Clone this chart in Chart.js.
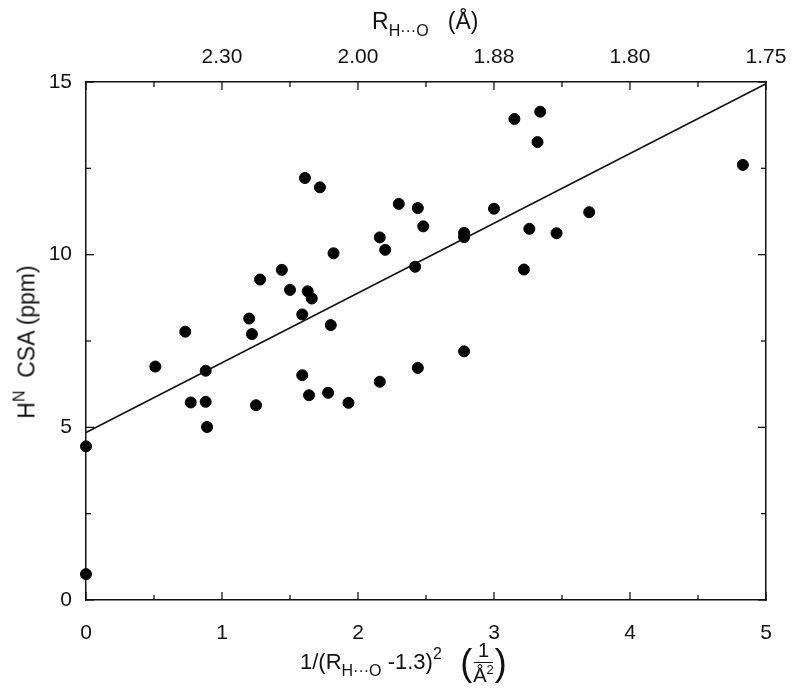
<!DOCTYPE html>
<html>
<head>
<meta charset="utf-8">
<script src="https://cdn.jsdelivr.net/npm/chart.js@4.4.1/dist/chart.umd.min.js"></script>
<style>
  body { margin: 0; background: #fff; }
  #wrap { position: relative; width: 799px; height: 700px; font-family: "Liberation Sans", Arial, sans-serif; color: #111; }
  #wrap canvas { position: absolute; left: 0; top: 0; }
  .ttl { position: absolute; white-space: nowrap; font-size: 23px; line-height: 1; }
  .ttl sub { font-size: 16px; vertical-align: -7px; }
  .ttl sup { font-size: 16px; vertical-align: 10px; }
  .frac { display: inline-flex; flex-direction: column; align-items: center; vertical-align: middle; font-size: 20px; margin: 0 1px; line-height: 1.05; }
  .frac .num { border-bottom: 1.5px solid #111; padding: 0 4px 1px; }
  .frac .den sup { font-size: 13px; vertical-align: 8px; }
  .paren { font-size: 36px; vertical-align: middle; }
</style>
</head>
<body>
<div id="wrap">
  <canvas id="hnChart" width="799" height="700"></canvas>
  <div class="ttl" style="left:372px; top:10px;">R<sub>H···O</sub>&nbsp;&nbsp;&nbsp;(Å)</div>
  <div class="ttl" style="left:300px; top:640px; font-size:22px;">1/(R<sub>H···O</sub> -1.3)<sup>2</sup>&nbsp;&nbsp;
    <span class="paren">(</span><span class="frac"><span class="num">1</span><span class="den">Å<sup>2</sup></span></span><span class="paren">)</span>
  </div>
  <div class="ttl" style="left:25px; top:342px; transform: translate(-50%, -50%) rotate(-90deg);">H<sup>N</sup>&nbsp;&nbsp;CSA (ppm)</div>
</div>
<script>
// data
const invR2 = [1.61, 1.72, 2.30, 2.44, 2.48, 2.16, 2.20, 1.82, 2.42, 1.44,
  1.28, 1.50, 1.63, 1.66, 1.20, 1.59, 1.80, 0.73, 1.22, 3.15,
  3.34, 3.32, 4.83, 3.00, 2.78, 2.78, 3.26, 3.46, 3.70, 3.22,
  0.51, 0.88, 0.77, 0.88, 0.89, 1.25, 1.59, 1.64, 1.78, 1.93,
  2.16, 2.44, 2.78, 0.00, 0.00];
const csa = [12.22, 11.95, 11.47, 11.35, 10.82, 10.50, 10.14, 10.04, 9.65, 9.56,
  9.28, 8.98, 8.94, 8.73, 8.15, 8.27, 7.96, 7.77, 7.70, 13.93,
  14.14, 13.26, 12.60, 11.33, 10.63, 10.51, 10.75, 10.62, 11.23, 9.57,
  6.76, 6.64, 5.72, 5.74, 5.01, 5.64, 6.51, 5.93, 6.00, 5.71,
  6.32, 6.72, 7.20, 4.45, 0.75];

const fitX = [0, 5];
const fitY = [4.85, 14.95];

const bottomLabels = [0, 1, 2, 3, 4, 5];
const leftLabels = [0, 5, 10, 15];
const topTickPos = [1, 2, 3, 4, 5];
const topTickText = ["2.30", "2.00", "1.88", "1.80", "1.75"];

const tickFont = { family: "Liberation Sans", size: 21 };

// inward tick marks on all four sides
const inwardTicks = {
  id: "inwardTicks",
  afterDraw(chart) {
    const ctx = chart.ctx;
    const area = chart.chartArea;
    ctx.save();
    ctx.strokeStyle = "#111";
    ctx.lineWidth = 1.3;
    ["x", "x2"].forEach((id) => {
      const s = chart.scales[id];
      s.ticks.forEach((t) => {
        const px = s.getPixelForValue(t.value);
        const len = Number.isInteger(t.value) ? 8 : 5;
        ctx.beginPath();
        if (id === "x") { ctx.moveTo(px, area.bottom); ctx.lineTo(px, area.bottom - len); }
        else { ctx.moveTo(px, area.top); ctx.lineTo(px, area.top + len); }
        ctx.stroke();
      });
    });
    ["y", "y2"].forEach((id) => {
      const s = chart.scales[id];
      s.ticks.forEach((t) => {
        const py = s.getPixelForValue(t.value);
        const len = t.value % 5 === 0 ? 8 : 5;
        ctx.beginPath();
        if (id === "y") { ctx.moveTo(area.left, py); ctx.lineTo(area.left + len, py); }
        else { ctx.moveTo(area.right, py); ctx.lineTo(area.right - len, py); }
        ctx.stroke();
      });
    });
    ctx.restore();
  },
};

const axisBorder = { display: true, color: "#111", width: 1.5 };
const noGrid = { display: true, drawOnChartArea: false, drawTicks: false };

new Chart(document.getElementById("hnChart").getContext("2d"), {
  type: "scatter",
  data: {
    datasets: [
      {
        label: "fit",
        data: fitX.map((x, i) => ({ x: x, y: fitY[i] })),
        showLine: true,
        borderColor: "#111",
        borderWidth: 1.5,
        pointRadius: 0,
        xAxisID: "x",
        yAxisID: "y",
      },
      {
        label: "HN CSA",
        data: invR2.map((x, i) => ({ x: x, y: csa[i] })),
        backgroundColor: "#000",
        borderColor: "#000",
        pointRadius: 5.5,
        xAxisID: "x",
        yAxisID: "y",
      },
    ],
  },
  options: {
    responsive: false,
    animation: false,
    clip: false,
    layout: { padding: 0 },
    plugins: { legend: { display: false }, tooltip: { enabled: false } },
    scales: {
      x: {
        type: "linear", position: "bottom", min: 0, max: 5,
        grid: noGrid, border: axisBorder,
        ticks: {
          stepSize: 0.5, color: "#111", font: tickFont, padding: 21, maxRotation: 0,
          callback: (v) => (bottomLabels.includes(v) ? String(v) : ""),
        },
        afterFit: (s) => { s.height = 100; },
      },
      x2: {
        type: "linear", position: "top", min: 0, max: 5,
        grid: noGrid, border: axisBorder,
        ticks: {
          stepSize: 0.5, color: "#111", font: tickFont, padding: 12, maxRotation: 0,
          callback: (v) => {
            const k = topTickPos.indexOf(v);
            return k >= 0 ? topTickText[k] : "";
          },
        },
        afterFit: (s) => { s.height = 82; },
      },
      y: {
        type: "linear", position: "left", min: 0, max: 15,
        grid: noGrid, border: axisBorder,
        ticks: {
          stepSize: 2.5, color: "#111", font: tickFont, padding: 14,
          callback: (v) => (leftLabels.includes(v) ? String(v) : ""),
        },
        afterFit: (s) => { s.width = 86; },
      },
      y2: {
        type: "linear", position: "right", min: 0, max: 15,
        grid: noGrid, border: axisBorder,
        ticks: { stepSize: 2.5, display: false },
        afterFit: (s) => { s.width = 33; },
      },
    },
  },
  plugins: [inwardTicks],
});
</script>
</body>
</html>
